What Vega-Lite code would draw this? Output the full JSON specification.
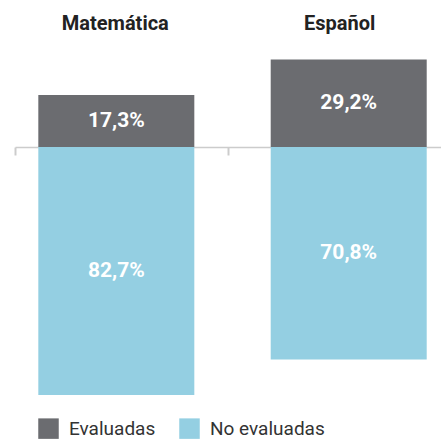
{
  "$schema": "https://vega.github.io/schema/vega-lite/v6.json",
  "width": 426,
  "height": 360,
  "autosize": {"type": "none"},
  "padding": {"left": 15, "top": 42, "right": 0, "bottom": 38},
  "config": {"view": {"stroke": null}, "font": "Roboto"},
  "data": {
    "values": [
      {"materia": "Matemática", "grupo": "Evaluadas", "valor": 17.3, "etiqueta": "17,3%"},
      {"materia": "Matemática", "grupo": "No evaluadas", "valor": -82.7, "etiqueta": "82,7%"},
      {"materia": "Español", "grupo": "Evaluadas", "valor": 29.2, "etiqueta": "29,2%"},
      {"materia": "Español", "grupo": "No evaluadas", "valor": -70.8, "etiqueta": "70,8%"}
    ]
  },
  "resolve": {"scale": {"x": "independent"}, "axis": {"x": "independent"}},
  "layer": [
    {
      "layer": [
        {
          "mark": {"type": "bar"},
          "encoding": {
            "x": {
              "field": "materia", "type": "nominal", "sort": ["Matemática", "Español"],
              "scale": {"paddingInner": 0.3287, "paddingOuter": 0.0809, "align": 0.62},
              "axis": {
                "orient": "top", "title": null, "domain": false, "ticks": false, "labelAngle": 0,
                "labelFont": "Roboto", "labelFontSize": 20, "labelFontWeight": "bold", "labelColor": "#222222",
                "labelPadding": 13, "labelBaseline": "alphabetic",
                "labelOffset": {"condition": {"test": "datum.value === 'Español'", "value": -9}, "value": -1}
              }
            },
            "y": {
              "field": "valor", "type": "quantitative", "stack": null,
              "scale": {"domain": [-85, 35], "nice": false, "zero": true}, "axis": null
            },
            "color": {
              "field": "grupo", "type": "nominal",
              "scale": {"domain": ["Evaluadas", "No evaluadas"], "range": ["#6b6c70", "#94cfe2"]},
              "legend": {
                "orient": "none", "legendX": 23, "legendY": 376, "direction": "horizontal", "title": null,
                "symbolType": "square", "symbolSize": 420, "symbolStrokeWidth": 0, "symbolOpacity": 1,
                "labelFont": "Roboto", "labelFontSize": 19, "labelColor": "#333333", "labelOffset": 10,
                "columnPadding": 23, "padding": 0
              }
            }
          }
        },
        {
          "transform": [{"calculate": "datum.valor / 2", "as": "medio"}],
          "mark": {"type": "text", "color": "white", "fontWeight": "bold", "fontSize": 21, "baseline": "middle", "font": "Roboto"},
          "encoding": {
            "x": {"field": "materia", "type": "nominal", "sort": ["Matemática", "Español"]},
            "y": {"field": "medio", "type": "quantitative"},
            "yOffset": {"condition": {"test": "datum.materia === 'Español' && datum.grupo === 'No evaluadas'", "value": -10}, "value": 0},
            "text": {"field": "etiqueta"}
          }
        }
      ]
    },
    {
      "mark": {"type": "point", "opacity": 0},
      "encoding": {
        "x": {
          "field": "materia", "type": "nominal", "sort": ["Matemática", "Español"],
          "scale": {"paddingInner": 0.0186, "paddingOuter": 0, "align": 0},
          "axis": {
            "orient": "bottom", "offset": -255, "labels": false, "title": null,
            "domainColor": "#cccccc", "domainWidth": 1.5, "tickColor": "#cccccc", "tickWidth": 2, "tickSize": 8,
            "bandPosition": 0, "tickExtra": false, "grid": false
          }
        },
        "y": {"datum": 0, "type": "quantitative"}
      }
    }
  ]
}
